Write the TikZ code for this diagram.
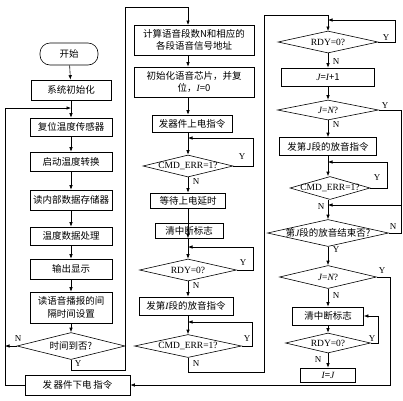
\documentclass[tikz,border=0pt]{standalone}
\usepackage{fontspec}
\setmainfont{Liberation Serif}
\newfontfamily\cjk{Noto Sans CJK SC}
\usetikzlibrary{shapes.geometric,arrows.meta}
\newcommand\vi[1]{{\rmfamily\itshape #1}}
\begin{document}
\begin{tikzpicture}[x=1pt,y=-1pt,
  font=\fontsize{9.5}{11}\selectfont,
  line width=0.6pt,
  pbox/.style n args={2}{draw, minimum width=#1, minimum height=#2, inner sep=1pt,
    align=center, font=\fontsize{9.5}{12.5}\selectfont\cjk},
  dia/.style n args={2}{draw, diamond, minimum width=#1, minimum height=#2, inner sep=0pt},
  term/.style={draw, rounded corners=10pt, minimum width=58pt, minimum height=22pt,
    font=\fontsize{9.5}{11}\selectfont\cjk},
  arr/.style={-{Latex[length=4.5pt,width=3.5pt]}},
  yn/.style={font=\fontsize{9}{10}\selectfont, inner sep=0pt}
]
\useasboundingbox (0,0) rectangle (403,400);

% ---------- column 1 ----------
\node[term] (start) at (69,54) {开始};
\node[pbox={80pt}{20pt}] (init) at (71,90) {系统初始化};
\node[pbox={82pt}{18pt}] (reset) at (71,127) {复位温度传感器};
\node[pbox={82pt}{19pt}] (conv) at (71,161.5) {启动温度转换};
\node[pbox={82pt}{20pt}] (rmem) at (71,200) {读内部数据存储器};
\node[pbox={82pt}{18pt}] (proc) at (71,236) {温度数据处理};
\node[pbox={82pt}{20pt}] (disp) at (71,269) {输出显示};
\node[pbox={82pt}{31pt}] (intv) at (71,307.5) {读语音播报的间\\隔时间设置};
\node[dia={108pt}{27pt}, label={[font=\fontsize{9.5}{11}\selectfont\cjk]center:时间到否?}] (q1) at (71,346) {};
\node[pbox={105pt}{20pt}] (off) at (77.5,385) {发\,器件下电\,指令};

\coordinate (lp1) at (5,108);
\coordinate (ax1) at (71,108);
\coordinate (yb) at (125,370);
\coordinate (c1r) at (125,7);
\coordinate (ax2) at (188,0);
\coordinate (ax3) at (328,0);

\draw[arr] (start) -- (init);
\draw[arr] (init) -- (reset);
\draw[arr] (reset) -- (conv);
\draw[arr] (conv) -- (rmem);
\draw[arr] (rmem) -- (proc);
\draw[arr] (proc) -- (disp);
\draw[arr] (disp) -- (intv);
\draw[arr] (intv) -- (q1);
\draw[arr] (off.west) -| (lp1) -- (ax1);
\draw[arr] (q1.west) -- (q1.west -| lp1);
\draw[arr] (q1.south) |- (yb) -- (c1r) -| (ax2 |- 0,25);
\node[yn] (n1) at (18,339) {N};
\node[yn] (y1) at (78,364) {Y};

% ---------- column 2 ----------
\node[pbox={120pt}{30pt}] (c2a) at (194,40) {计算语音段数N和相应的\\各段语音信号地址};
\node[pbox={120pt}{30pt}] (c2b) at (194,82) {初始化语音芯片，并复\\位，\vi{I}=0};
\node[pbox={80pt}{17pt}] (c2c) at (192,123.5) {发器件上电指令};
\node[dia={90pt}{22pt}, label={center:CMD\_ERR=1?}] (q2) at (188,166) {};
\node[pbox={75pt}{15pt}] (c2d) at (188,200.5) {等待上电延时};
\node[pbox={68pt}{15pt}] (c2e) at (189,230.5) {清中断标志};
\node[dia={97pt}{22pt}, label={center:RDY=0?}] (q3) at (188,270) {};
\node[pbox={94pt}{18pt}] (c2f) at (186,306) {发第\vi{I}段的放音指令};
\node[dia={107pt}{23pt}, label={center:CMD\_ERR=1?}] (q4) at (188,346) {};

\coordinate (r2a) at (253,138);
\coordinate (r3a) at (253,247);
\coordinate (r4a) at (252,322);
\coordinate (b2) at (264,372);
\coordinate (t3) at (264,15);

\draw[arr] (c2a.south -| ax2) -- (c2b.north -| ax2);
\draw[arr] (c2b.south -| ax2) -- (c2c.north -| ax2);
\draw[arr] (c2c.south -| ax2) -- (q2.north);
\draw[arr] (q2.east) -| (r2a) -- (r2a -| ax2);
\draw[arr] (q2.south) -- (c2d.north -| ax2);
\draw[arr] (c2d.south -| ax2) -- (c2e.south -| ax2 |- c2e.north);
\draw[arr] (c2e.south -| ax2) -- (q3.north);
\draw[arr] (q3.east) -| (r3a) -- (r3a -| ax2);
\draw[arr] (q3.south) -- (c2f.north -| ax2);
\draw[arr] (c2f.south -| ax2) -- (q4.north);
\draw[arr] (q4.east) -| (r4a) -- (r4a -| ax2);
\draw[arr] (q4.south) |- (b2) -- (t3) -| (ax3 |- 0,31);
\node[yn] (y2) at (242,157) {Y};
\node[yn] (n2) at (196,182) {N};
\node[yn] (y3) at (243,263) {Y};
\node[yn] (n3) at (196,286) {N};
\node[yn] (y4) at (247,339) {Y};
\node[yn] (n4) at (196,364) {N};

% ---------- column 3 ----------
\node[dia={100pt}{22pt}, label={center:RDY=0?}] (q5) at (328,42) {};
\node[pbox={93pt}{18pt}] (c3a) at (328,77) {\vi{J}=\vi{I}+1};
\node[dia={101pt}{20pt}, label={center:\vi{J}=\vi{N}?}] (q6) at (328,110) {};
\node[pbox={97pt}{18pt}] (c3b) at (328,146.5) {发第J段的放音指令};
\node[dia={80pt}{23pt}, label={center:CMD\_ERR=1?}] (q7) at (330,188) {};
\node[dia={121pt}{27pt}, label={[font=\fontsize{9.5}{11}\selectfont\cjk]center:第\vi{J}段的放音结束否?}] (q8) at (328,233) {};
\node[dia={97pt}{23pt}, label={center:\vi{J}=\vi{N}?}] (q9) at (328,277) {};
\node[pbox={71pt}{18pt}] (c3c) at (328,316) {清中断标志};
\node[dia={85pt}{20pt}, label={center:RDY=0?}] (q10) at (328,343) {};
\node[pbox={55pt}{14pt}] (c3d) at (328,375) {\vi{I}=\vi{J}};

\coordinate (r5a) at (395,20);
\coordinate (r6) at (401,205);
\coordinate (r7a) at (387,162);
\coordinate (r9) at (390,385);
\coordinate (r10) at (378,316);

\draw[arr] (q5.east) -| (r5a) -- (r5a -| ax3);
\draw[arr] (q5.south) -- (c3a.north);
\draw[arr] (c3a.south) -- (q6.north);
\draw (q6.east) -| (r6);
\draw[arr] (q6.south) -- (c3b.north);
\draw[arr] (c3b.south) -- (q7.north -| ax3);
\draw[arr] (q7.east) -| (r7a) -- (r7a -| ax3);
\draw[arr] (q7.south -| ax3) -- (q8.north);
\draw[arr] (q8.east) -| (r6) -- (r6 -| ax3);
\draw[arr] (q8.south) -- (q9.north);
\draw[arr] (q9.east) -| (r9) -- (off.east);
\draw[arr] (q9.south) -- (c3c.north);
\draw[arr] (c3c.south) -- (q10.north);
\draw[arr] (q10.east) -| (r10) -- (c3c.east);
\draw[arr] (q10.south) -- (c3d.north);
\node[yn] (y5) at (386,38) {Y};
\node[yn] (n5) at (336,62) {N};
\node[yn] (y6) at (385,106) {Y};
\node[yn] (n6) at (336,125) {N};
\node[yn] (y7) at (377,178) {Y};
\node[yn] (n7) at (321,207) {N};
\node[yn] (n8) at (393,227) {N};
\node[yn] (y8) at (336,250) {Y};
\node[yn] (y9) at (382,271) {Y};
\node[yn] (n9) at (336,296) {N};
\node[yn] (y10) at (372,339) {Y};
\node[yn] (n10) at (318,360) {N};
\end{tikzpicture}
\end{document}
